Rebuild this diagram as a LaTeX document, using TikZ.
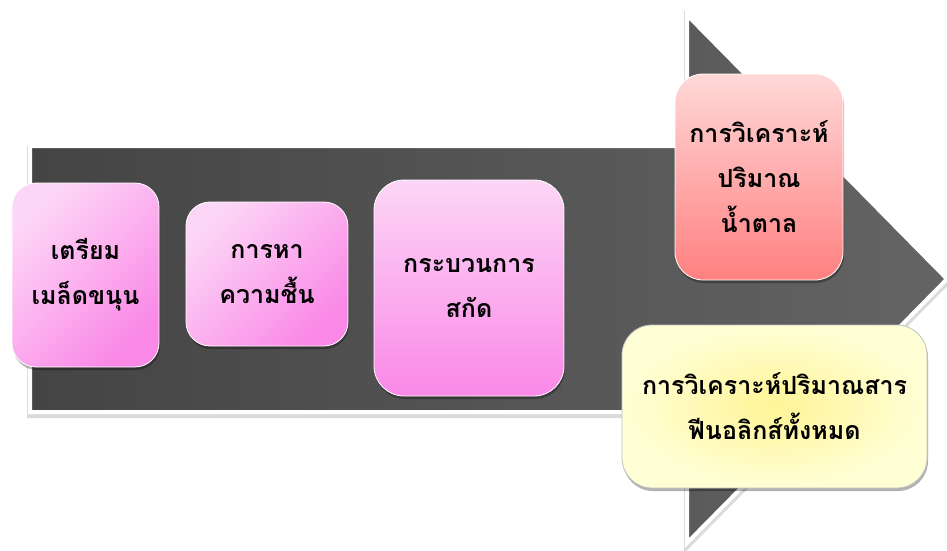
\documentclass[tikz,border=0pt]{standalone}
\usepackage{fontspec}
\newfontfamily\thaifont[Script=Thai]{Loma}
\usetikzlibrary{shadows}
\definecolor{pkL}{HTML}{FCD6F6}
\definecolor{pkD}{HTML}{FA88E7}
\definecolor{rdL}{HTML}{FFD8D8}
\definecolor{rdD}{HTML}{FF8080}
\definecolor{ylC}{HTML}{FFF496}
\definecolor{ylE}{HTML}{FFFFD6}
\definecolor{arL}{HTML}{444444}
\definecolor{arR}{HTML}{646464}
\begin{document}
\begin{tikzpicture}[x=1pt,y=-1pt,
  box/.style={rounded corners=24pt, draw=white, line width=0.8pt, align=center,
    text=black, inner sep=0pt,
    font=\thaifont\bfseries\fontsize{25}{45}\selectfont,
    drop shadow={shadow xshift=1pt, shadow yshift=-3pt, opacity=.3, fill=black}},
  pinkdiag/.style={top color=pkL, bottom color=pkD, shading angle=45},
  pinkvert/.style={top color=pkL, bottom color=pkD},
  redvert/.style={top color=rdL, bottom color=rdD},
  yellowrad/.style={inner color=ylC, outer color=ylE}]
\useasboundingbox (0,0) rectangle (947,551);
% arrow shadow
\fill[black!14, draw=black!14, line width=6pt, line join=miter, yshift=-3pt]
  (30,146) -- (687,146) -- (687,15) -- (947,279) -- (687,543) -- (687,412) -- (30,412) -- cycle;
% arrow body
\path[draw=white, line width=4pt, line join=miter, left color=arL, right color=arR]
  (30,146) -- (687,146) -- (687,15) -- (947,279) -- (687,543) -- (687,412) -- (30,412) -- cycle;
% boxes
\node[box, pinkdiag, minimum width=147pt, minimum height=184pt] (b1) at (85.5,275) {เตรียม\\เมล็ดขนุน};
\node[box, pinkdiag, minimum width=162pt, minimum height=144pt] (b2) at (267,274) {การหา\\ความชื้น};
\node[box, pinkvert, rounded corners=30pt, minimum width=190pt, minimum height=216pt] (b3) at (469,288) {กระบวนการ\\สกัด};
\node[box, redvert, rounded corners=28pt, minimum width=168pt, minimum height=206pt] (b4) at (759,177) {การวิเคราะห์\\ปริมาณ\\น้ำตาล};
\node[box, yellowrad, rounded corners=30pt, draw=black!25, minimum width=305pt, minimum height=163pt] (b5) at (774.5,406.5) {การวิเคราะห์ปริมาณสาร\\ฟีนอลิกส์ทั้งหมด};
\end{tikzpicture}
\end{document}
